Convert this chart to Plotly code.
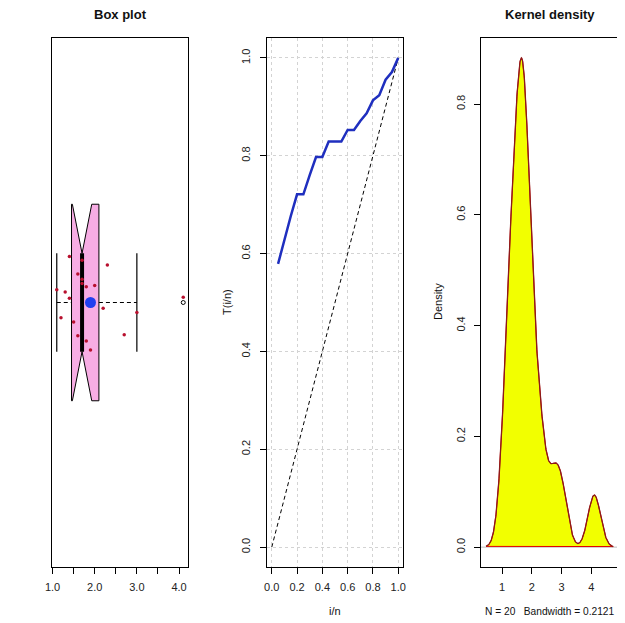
import numpy as np
import plotly.graph_objects as go

values = [1.1, 1.2, 1.3, 1.4, 1.4, 1.5, 1.6, 1.6, 1.7, 1.7,
          1.7, 1.8, 1.8, 1.9, 2.0, 2.2, 2.3, 2.7, 3.0, 4.1]
# vertical jitter of the strip chart points, as seen in the picture
jitter = [1.024, 0.971, 1.020, 1.087, 1.008, 0.963, 1.054, 0.937, 1.080, 1.044,
          1.036, 1.030, 0.927, 0.910, 1.032, 0.989, 1.071, 0.939, 0.981, 1.010]
bandwidth = 0.2121

box_ticks = [1.0, 1.5, 2.0, 2.5, 3.0, 3.5, 4.0]
box_tick_text = ["1.0", "", "2.0", "", "3.0", "", "4.0"]
unit_ticks = [0.0, 0.2, 0.4, 0.6, 0.8, 1.0]
dens_x_ticks = [1, 2, 3, 4]
dens_y_ticks = [0.0, 0.2, 0.4, 0.6, 0.8]

FONT = "Liberation Sans, Arial, sans-serif"
OFF = 8  # page body margin
W, H = 625 - OFF, 623 - OFF


def px(x):
    return (x - OFF) / W


def py(y):
    return 1 - (y - OFF) / H


def fivenum(x):
    x = np.sort(np.asarray(x))
    n = len(x)
    n4 = np.floor((n + 3) / 2) / 2
    d = np.array([1, n4, (n + 1) / 2, n + 1 - n4, n])
    return 0.5 * (x[np.floor(d).astype(int) - 1] + x[np.ceil(d).astype(int) - 1])


x = np.sort(np.array(values))
n = len(x)

# ---- box plot stats
lo, q1, med, q3, hi = fivenum(x)
iqr = q3 - q1
wlo = x[x >= q1 - 1.5 * iqr].min()
whi = x[x <= q3 + 1.5 * iqr].max()
outl = x[(x < wlo) | (x > whi)]
nlo = med - 1.58 * iqr / np.sqrt(n)
nhi = med + 1.58 * iqr / np.sqrt(n)
w = 0.186
hw = w / 2

# ---- TTT
i_n = np.arange(1, n + 1) / n
ttt = (np.cumsum(x) + (n - np.arange(1, n + 1)) * x) / x.sum()

# ---- kernel density
grid = np.linspace(x.min() - 3 * bandwidth, x.max() + 3 * bandwidth, 512)
dens = np.exp(-0.5 * ((grid[:, None] - x[None, :]) / bandwidth) ** 2).sum(axis=1)
dens = dens / (n * bandwidth * np.sqrt(2 * np.pi))

fig = go.Figure()

# box polygon with notches
bx = [q1, nlo, med, nhi, q3, q3, nhi, med, nlo, q1, q1]
by = [1 - w, 1 - w, 1 - hw, 1 - w, 1 - w, 1 + w, 1 + w, 1 + hw, 1 + w, 1 + w, 1 - w]
fig.add_trace(go.Scatter(x=bx, y=by, mode="lines", fill="toself",
                         fillcolor="#F7ADE4", line=dict(color="black", width=1),
                         xaxis="x", yaxis="y", hoverinfo="skip"))
# whiskers
for a, b in [(wlo, q1), (q3, whi)]:
    fig.add_trace(go.Scatter(x=[a, b], y=[1, 1], mode="lines",
                             line=dict(color="black", width=1, dash="4px,3px"),
                             xaxis="x", yaxis="y"))
for s in [wlo, whi]:
    fig.add_trace(go.Scatter(x=[s, s], y=[1 - hw, 1 + hw], mode="lines",
                             line=dict(color="black", width=1.2),
                             xaxis="x", yaxis="y"))
# median
fig.add_trace(go.Scatter(x=[med, med], y=[1 - hw, 1 + hw], mode="lines",
                         line=dict(color="black", width=4),
                         xaxis="x", yaxis="y"))
# outliers
fig.add_trace(go.Scatter(x=outl, y=[1] * len(outl), mode="markers",
                         marker=dict(symbol="circle-open", size=4, color="black",
                                     line=dict(width=1)),
                         xaxis="x", yaxis="y"))
# strip chart
fig.add_trace(go.Scatter(x=values, y=jitter, mode="markers",
                         marker=dict(size=3.5, color="#B8102E"),
                         xaxis="x", yaxis="y"))
# mean
fig.add_trace(go.Scatter(x=[x.mean()], y=[1], mode="markers",
                         marker=dict(size=11, color="#2040F0"),
                         xaxis="x", yaxis="y"))

# TTT panel
fig.add_trace(go.Scatter(x=[0, 1], y=[0, 1], mode="lines",
                         line=dict(color="black", width=1, dash="4px,3px"),
                         xaxis="x2", yaxis="y2"))
fig.add_trace(go.Scatter(x=i_n, y=ttt, mode="lines",
                         line=dict(color="#1F2FBF", width=2.5),
                         xaxis="x2", yaxis="y2"))

# density panel
xr0 = grid[0] - 0.04 * (grid[-1] - grid[0])
xr1 = grid[-1] + 0.04 * (grid[-1] - grid[0])
fig.add_trace(go.Scatter(x=[xr0, xr1], y=[0, 0], mode="lines",
                         line=dict(color="#BEBEBE", width=1),
                         xaxis="x3", yaxis="y3"))
fig.add_trace(go.Scatter(x=np.r_[grid, grid[0]], y=np.r_[dens, dens[0]], mode="lines",
                         fill="toself", fillcolor="#F2FF00",
                         line=dict(color="#E00000", width=1),
                         xaxis="x3", yaxis="y3"))
fig.add_trace(go.Scatter(x=grid, y=dens, mode="lines",
                         line=dict(color="#8B1A1A", width=1.3),
                         xaxis="x3", yaxis="y3"))

axis_common = dict(showline=True, mirror=True, linecolor="black", linewidth=1,
                   ticks="outside", ticklen=6, tickcolor="black", tickwidth=1,
                   zeroline=False, showgrid=False, automargin=False,
                   tickfont=dict(family=FONT, size=11, color="#222"))
ydom = [py(566.7), py(38.3)]

fig.update_layout(
    width=W, height=H, showlegend=False,
    paper_bgcolor="white", plot_bgcolor="white",
    margin=dict(l=0, r=0, t=0, b=0),
    xaxis=dict(axis_common, domain=[px(51.7), px(188.3)], anchor="y",
               range=[x.min() - 0.04 * (x.max() - x.min()), x.max() + 0.04 * (x.max() - x.min())],
               tickvals=box_ticks, ticktext=box_tick_text, ticklabelstandoff=4),
    yaxis=dict(axis_common, domain=ydom, anchor="x", range=[0.5, 1.5],
               ticks="", showticklabels=False),
    xaxis2=dict(axis_common, domain=[px(266.7), px(403.3)], anchor="y2",
                range=[-0.04, 1.04], tickvals=unit_ticks, tickformat=".1f",
                showgrid=True, gridcolor="#D3D3D3", griddash="dot",
                ticklabelstandoff=4),
    yaxis2=dict(axis_common, domain=ydom, anchor="x2", range=[-0.04, 1.04],
                tickvals=unit_ticks, tickformat=".1f", tickangle=-90,
                showgrid=True, gridcolor="#D3D3D3", griddash="dot",
                ticklabelstandoff=5),
    xaxis3=dict(axis_common, domain=[px(481), px(618.3)], anchor="y3",
                range=[xr0, xr1], tickvals=dens_x_ticks, ticklabelstandoff=4),
    yaxis3=dict(axis_common, domain=ydom, anchor="x3",
                range=[-0.04 * dens.max(), 1.04 * dens.max()],
                tickvals=dens_y_ticks, tickformat=".1f", tickangle=-90,
                ticklabelstandoff=5),
)

ann = [
    ("<b>Box plot</b>", 120, 15, 13, 0),
    ("<b>Kernel density</b>", 550, 15, 13, 0),
    ("i/n", 335, 611, 11, 0),
    ("T(i/n)", 227, 302, 11, -90),
    ("Density", 438, 302, 11, -90),
    ("N = 20   Bandwidth = 0.2121", 549, 611, 10.2, 0),
]
for text, ax, ay, size, ang in ann:
    fig.add_annotation(text=text, x=px(ax), y=py(ay), xref="paper", yref="paper",
                       showarrow=False, textangle=ang,
                       font=dict(family=FONT, size=size, color="#111"),
                       xanchor="center", yanchor="middle")

fig.write_html("out.html")
